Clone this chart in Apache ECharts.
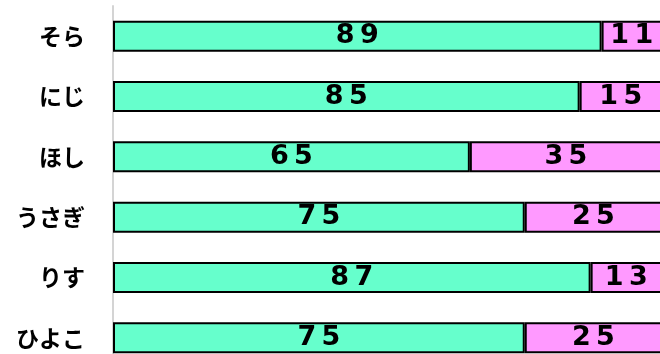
<!DOCTYPE html>
<html>
<head>
<meta charset="utf-8">
<script src="https://cdn.jsdelivr.net/npm/echarts@6/dist/echarts.min.js"></script>
<style>
  html, body { margin: 0; padding: 0; background: #fff; }
  #chart { width: 660px; height: 354px; }
</style>
</head>
<body>
<div id="chart"></div>
<script>
  const categories = ['そら', 'にじ', 'ほし', 'うさぎ', 'りす', 'ひよこ'];
  const greenValues = [89, 85, 65, 75, 87, 75];
  const pinkValues = [11, 15, 35, 25, 13, 25];

  const chart = echarts.init(document.getElementById('chart'));

  // spread the digits a bit, like the original's wide numerals
  const spaced = p => String(p.value).split('').join('\u2009');

  const labelStyle = {
    show: true,
    position: 'inside',
    color: '#000',
    fontSize: 27,
    fontWeight: 'bold',
    fontFamily: 'DejaVu Sans',
    formatter: spaced
  };

  chart.setOption({
    animation: false,
    grid: {
      left: 113, top: 6, width: 549, height: 362,
      containLabel: false,
      outerBoundsMode: 'none'
    },
    xAxis: {
      type: 'value',
      min: 0,
      max: 100,
      show: false
    },
    yAxis: {
      type: 'category',
      data: categories,
      inverse: true,
      axisLine: { show: true, lineStyle: { color: '#d4d4d4', width: 2 } },
      axisTick: { show: false },
      axisLabel: {
        color: '#000',
        fontSize: 23,
        fontWeight: 'bold',
        fontFamily: 'Noto Sans CJK JP',
        margin: 28
      }
    },
    series: [
      {
        type: 'bar',
        stack: 'total',
        data: greenValues,
        barWidth: 31,
        itemStyle: { color: '#66FFCC', borderColor: '#000', borderWidth: 2 },
        label: labelStyle
      },
      {
        type: 'bar',
        stack: 'total',
        data: pinkValues,
        barWidth: 31,
        itemStyle: { color: '#FF99FF', borderColor: '#000', borderWidth: 2 },
        label: labelStyle
      }
    ]
  });
</script>
</body>
</html>
